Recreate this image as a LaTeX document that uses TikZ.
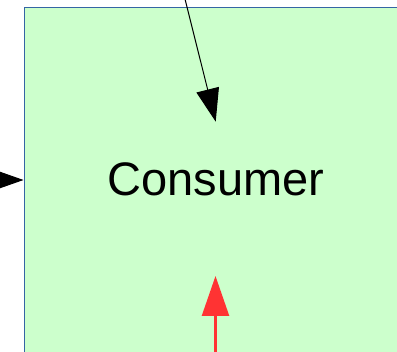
\documentclass[tikz,border=0pt]{standalone}
\usepackage{fontspec}
\setmainfont{Liberation Sans}
\usetikzlibrary{arrows.meta}
\definecolor{boxfill}{HTML}{CCFFCC}
\definecolor{boxline}{HTML}{3465A4}
\definecolor{redarrow}{HTML}{FF3333}
\tikzset{
  blackconn/.style={draw=black, line width=1pt, -{Triangle[length=33pt,width=23pt]}},
  redconn/.style={draw=redarrow, line width=2.5pt, -{Triangle[length=40pt,width=27pt]}},
  consumerbox/.style={draw=boxline, fill=boxfill, line width=1pt, rectangle, anchor=north west,
    minimum width=450pt, minimum height=450pt, inner sep=0pt}
}
\begin{document}
\begin{tikzpicture}[x=1pt,y=-1pt]
\useasboundingbox (0,0) rectangle (397,352);
\clip (0,0) rectangle (397,352);
\node[consumerbox] (consumer) at (23.5,7) {};
\node[anchor=base, font=\fontsize{47}{56}\selectfont, inner sep=0pt] (label) at (216,196) {Consumer};
\coordinate (topstart) at (185,-1);
\coordinate (topend) at (215.7,121.7);
\coordinate (leftstart) at (-20,180);
\coordinate (redstart) at (215.5,360);
\coordinate (redend) at (215.5,276);
\draw[blackconn] (topstart) -- (topend);
\draw[blackconn] (leftstart) -- (consumer.west |- leftstart);
\draw[redconn] (redstart) -- (redend);
\end{tikzpicture}
\end{document}
